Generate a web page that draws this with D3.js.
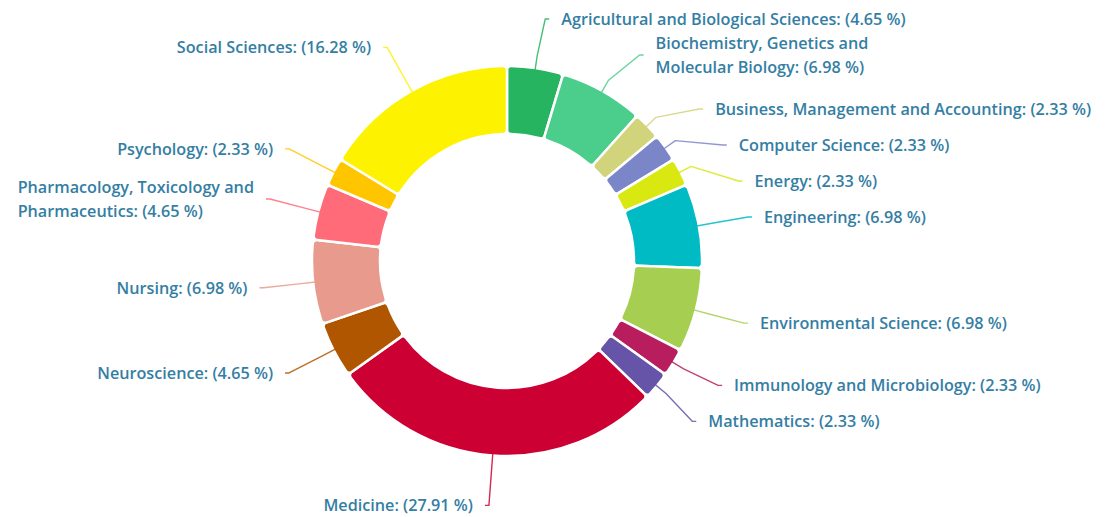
<!DOCTYPE html>
<html>
<head>
<meta charset="utf-8">
<script src="https://cdn.jsdelivr.net/npm/d3@7"></script>
<style>
  body { margin: 0; background: #fff; }
  .label { font-family: "Open Sans", sans-serif; font-weight: 600; font-size: 16.2px; fill: #347ea3; }
</style>
</head>
<body>
<div id="chart"></div>
<script>
var svgWidth = 1109;
var svgHeight = 517;

// subject areas, clockwise from 12 o'clock ("\n" = where the label wraps)
var categories = [
  "Agricultural and Biological Sciences",
  "Biochemistry, Genetics and\nMolecular Biology",
  "Business, Management and Accounting",
  "Computer Science",
  "Energy",
  "Engineering",
  "Environmental Science",
  "Immunology and Microbiology",
  "Mathematics",
  "Medicine",
  "Neuroscience",
  "Nursing",
  "Pharmacology, Toxicology and\nPharmaceutics",
  "Psychology",
  "Social Sciences"
];

// share of documents (%)
var shares = [4.65, 6.98, 2.33, 2.33, 2.33, 6.98, 6.98, 2.33, 2.33, 27.91, 4.65, 6.98, 4.65, 2.33, 16.28];

var colors = [
  "#27b460", "#4bcd8c", "#d2d47c", "#7b86c8", "#d8e810",
  "#00bbc4", "#a6cf52", "#b81e5e", "#6654a8", "#cc0033",
  "#b05500", "#e89b8c", "#ff6b79", "#ffc600", "#fdf200"
];

var cx = 507, cy = 261;
var outerR = 195, innerR = 127;
var tickR = 207, labelR = 245;
var lineH = 24;

var svg = d3.select("#chart")
  .append("svg")
  .attr("width", svgWidth)
  .attr("height", svgHeight);

var chartGroup = svg.append("g")
  .attr("transform", `translate(${cx}, ${cy})`);

var data = categories.map(function(c, i) {
  return { name: c, value: shares[i], color: colors[i] };
});

var pie = d3.pie().sort(null).value(d => d.value);
var arc = d3.arc().innerRadius(innerR).outerRadius(outerR).cornerRadius(4);

var arcs = pie(data);

// slices
chartGroup.selectAll("path.slice")
  .data(arcs)
  .enter()
  .append("path")
  .attr("class", "slice")
  .attr("d", arc)
  .attr("fill", d => d.data.color)
  .attr("stroke", "#fff")
  .attr("stroke-width", 2.5)
  .attr("stroke-linejoin", "round");

// label layout: ideal spot on a circle, then spread apart on each side
arcs.forEach(function(a) {
  a.mid = (a.startAngle + a.endAngle) / 2;
  a.right = Math.sin(a.mid) >= 0;
  a.lines = (a.data.name + ": (" + a.data.value.toFixed(2) + " %)").split("\n");
  a.y = -labelR * Math.cos(a.mid);
});

var minY = -cy + lineH / 2 + 7;

function relax(side) {
  side.sort((a, b) => a.y - b.y);
  for (var it = 0; it < 500; it++) {
    var moved = false;
    for (var i = 0; i < side.length - 1; i++) {
      var a = side[i], b = side[i + 1];
      var need = 18 * a.lines.length + 18;
      var gap = b.y - a.y;
      if (gap < need - 0.01) {
        var d = (need - gap) / 2;
        a.y -= d;
        b.y += d;
        if (a.y < minY) { b.y += minY - a.y; a.y = minY; }
        moved = true;
      }
    }
    if (!moved) break;
  }
}
relax(arcs.filter(a => a.right));
relax(arcs.filter(a => !a.right));

arcs.forEach(function(a) {
  var dx = Math.sqrt(Math.max(0, labelR * labelR - a.y * a.y));
  a.x = a.right ? dx : -dx;
});

// leader lines
var line = d3.line();
chartGroup.selectAll("path.tick")
  .data(arcs)
  .enter()
  .append("path")
  .attr("class", "tick")
  .attr("fill", "none")
  .attr("stroke", d => d.data.color)
  .attr("stroke-width", 1.4)
  .attr("stroke-opacity", 0.85)
  .attr("stroke-linejoin", "round")
  .attr("d", function(d) {
    var s = Math.sin(d.mid), c = Math.cos(d.mid);
    var dir = d.right ? 1 : -1;
    return line([
      [(outerR - 2) * s, -(outerR - 2) * c],
      [tickR * s, -tickR * c],
      [d.x, d.y],
      [d.x + 4 * dir, d.y]
    ]);
  });

// labels
var labels = chartGroup.selectAll("text.label")
  .data(arcs)
  .enter()
  .append("text")
  .attr("class", "label");

labels.each(function(d) {
  var t = d3.select(this);
  d.lines.forEach(function(l, i) {
    t.append("tspan")
      .attr("y", d.y + (i - (d.lines.length - 1) / 2) * lineH)
      .attr("dy", "0.36em")
      .text(l);
  });
  var w = 0;
  t.selectAll("tspan").each(function() { w = Math.max(w, this.getComputedTextLength()); });
  var x0 = d.right ? d.x + 16 : d.x - 16 - w;
  t.selectAll("tspan").attr("x", x0);
});
</script>
</body>
</html>
